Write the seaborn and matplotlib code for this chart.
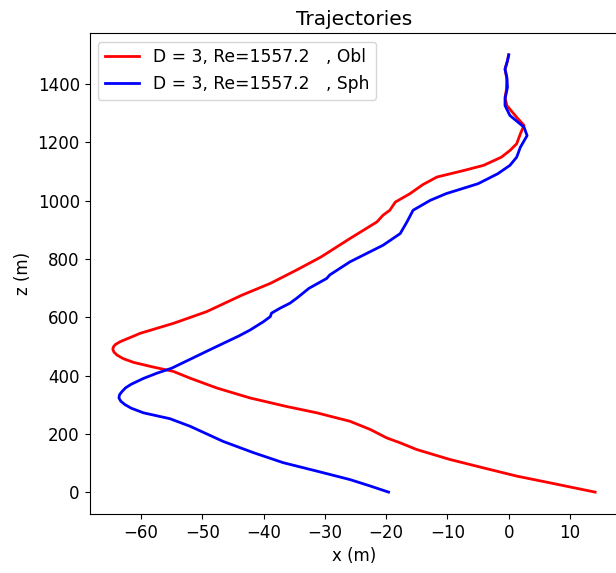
import matplotlib
matplotlib.use("Agg")
import matplotlib.pyplot as plt
import seaborn as sns
import pandas as pd

# Oblate trajectory (z in m, x in m), ordered from bottom to top
obl_z = [0, 32, 55, 83, 112, 146, 169, 186, 215, 243, 272, 294, 323, 357, 391,
         414, 430, 445, 458, 470, 480, 490, 498, 506, 516, 530, 545, 579, 619,
         676, 716, 762, 807, 870, 927, 950, 967, 995, 1024, 1055, 1081, 1104,
         1121, 1149, 1172, 1195, 1229, 1258, 1286, 1326, 1354, 1377, 1417,
         1451, 1480, 1500]
obl_x = [14.1, 6.7, 1.3, -4.1, -9.6, -15.0, -17.7, -19.9, -22.6, -25.9, -31.3,
         -36.3, -42.2, -47.6, -52.0, -54.7, -58.2, -61.2, -62.9, -63.9, -64.4,
         -64.6, -64.5, -64.2, -63.4, -61.8, -60.1, -54.7, -49.3, -43.5, -38.9,
         -34.6, -30.6, -25.9, -21.5, -20.5, -19.4, -18.5, -16.1, -14.0, -11.7,
         -7.2, -4.1, -1.2, 0.2, 1.3, 1.9, 2.5, 1.3, -0.3, -0.6, -0.4, -0.3,
         -0.6, -0.2, 0.0]

# Spherical trajectory
sph_z = [0, 21, 43, 72, 101, 135, 174, 226, 252, 272, 288, 300, 312, 323, 334,
         345, 358, 370, 390, 408, 425, 488, 536, 556, 585, 602, 614, 631, 648,
         665, 699, 733, 745, 790, 847, 887, 927, 967, 1001, 1024, 1058, 1092,
         1121, 1149, 1183, 1223, 1252, 1292, 1326, 1349, 1389, 1423, 1451,
         1480, 1500]
sph_x = [-19.6, -22.6, -25.9, -31.3, -36.8, -41.6, -46.6, -52.0, -55.3, -59.6,
         -61.6, -62.6, -63.3, -63.6, -63.5, -63.1, -62.5, -61.6, -59.6, -57.4,
         -55.0, -48.8, -44.0, -42.2, -40.0, -38.9, -38.7, -37.3, -35.7, -34.6,
         -32.6, -29.7, -29.2, -25.9, -20.5, -17.7, -16.6, -15.6, -12.8, -10.2,
         -5.0, -1.8, 0.2, 1.3, 1.9, 3.0, 2.5, 0.2, -0.6, -0.6, -0.2, -0.3,
         -0.6, -0.2, 0.0]

labels = ["D = 3, Re=1557.2   , Obl", "D = 3, Re=1557.2   , Sph"]
colors = ["red", "blue"]

df = pd.concat([
    pd.DataFrame({"x": obl_x, "z": obl_z, "case": labels[0]}),
    pd.DataFrame({"x": sph_x, "z": sph_z, "case": labels[1]}),
], ignore_index=True)

plt.rcParams["font.family"] = ["DejaVu Sans"]
fig = plt.figure(figsize=(6.16, 5.73), dpi=100)
ax = fig.add_axes([0.1453, 0.103, 0.8586, 0.8394])

sns.lineplot(data=df, x="x", y="z", hue="case", palette=colors,
             sort=False, estimator=None, linewidth=2.0, ax=ax)
for line in ax.get_lines():
    line.set_solid_joinstyle("round")

ax.set_xlim(-68.4, 17.9)
ax.set_ylim(-75, 1575)
ax.set_xticks([-60, -50, -40, -30, -20, -10, 0, 10])
ax.set_yticks([0, 200, 400, 600, 800, 1000, 1200, 1400])
ax.tick_params(labelsize=12)
ax.set_xlabel("x (m)", fontsize=12)
ax.set_ylabel("z (m)", fontsize=12)
ax.set_title("Trajectories", fontsize=14.5)
ax.legend(loc="upper left", fontsize=12.3, title=None)

fig.savefig("out.png", dpi=100)
